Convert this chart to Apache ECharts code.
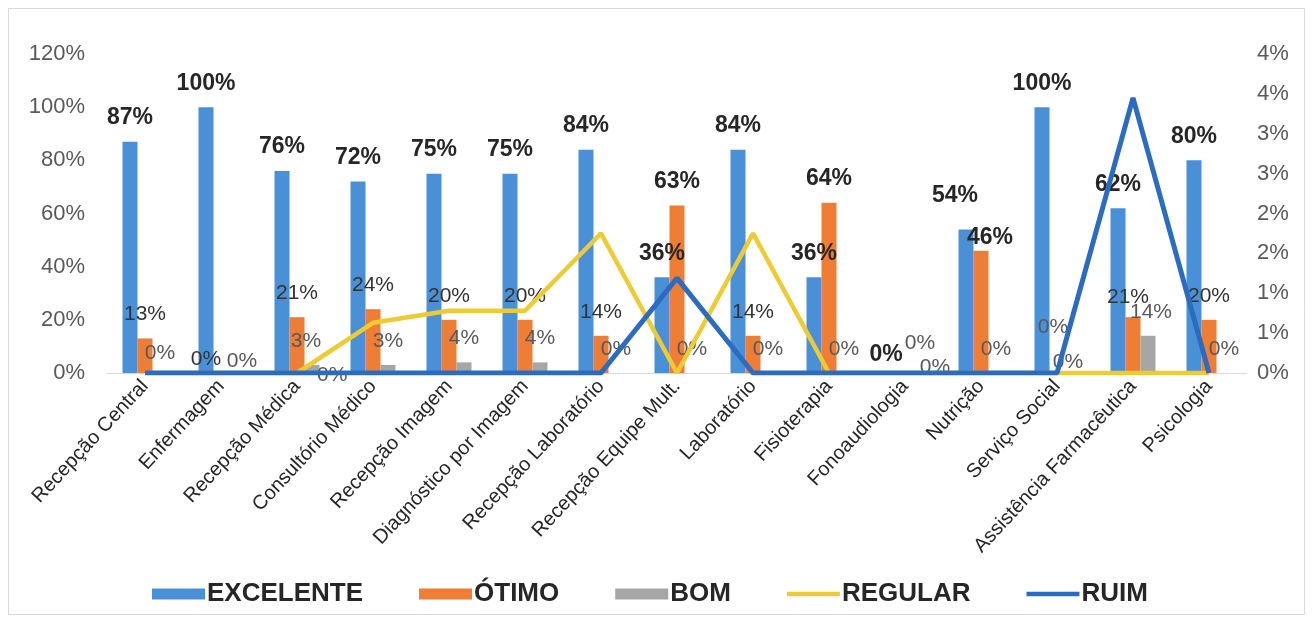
<!DOCTYPE html>
<html>
<head>
<meta charset="utf-8">
<script src="https://cdn.jsdelivr.net/npm/echarts@6/dist/echarts.min.js"></script>
<style>
  html, body { margin: 0; padding: 0; background: #ffffff; }
  #chart { width: 1314px; height: 622px; }
</style>
</head>
<body>
<div id="chart"></div>
<script>
// Satisfaction survey by sector
const categories = [
  'Recepção Central', 'Enfermagem', 'Recepção Médica', 'Consultório Médico',
  'Recepção Imagem', 'Diagnóstico por Imagem', 'Recepção Laboratório',
  'Recepção Equipe Mult.', 'Laboratório', 'Fisioterapia', 'Fonoaudiologia',
  'Nutrição', 'Serviço Social', 'Assistência Farmacêutica', 'Psicologia'
];
const excelente = [0.87, 1.00, 0.76, 0.72, 0.75, 0.75, 0.84, 0.36, 0.84, 0.36, 0.00, 0.54, 1.00, 0.62, 0.80];
const otimo     = [0.13, 0.00, 0.21, 0.24, 0.20, 0.20, 0.14, 0.63, 0.14, 0.64, 0.00, 0.46, 0.00, 0.21, 0.20];
const bom       = [0.00, 0.00, 0.03, 0.03, 0.04, 0.04, 0.00, 0.00, 0.00, 0.00, 0.00, 0.00, 0.00, 0.14, 0.00];
const regular   = [0, 0, 0, 0.0063, 0.0078, 0.0078, 0.0175, 0, 0.0175, 0, 0, 0, 0, 0, 0];
const ruim      = [0, 0, 0, 0, 0, 0, 0, 0.0119, 0, 0, 0, 0, 0, 0.0345, 0];

const leftTicks  = { min: 0, max: 1.2, step: 0.2 };
const rightTicks = { min: 0, max: 0.04, step: 0.005 };

const FONT = '"Liberation Sans", Arial, sans-serif';
const pct = v => Math.round(v * 100) + '%';

// Hand-placed label nudges: index -> [dx, rise above bar top]
const DEFAULT_RISE = 24;
const labelNudges = {
  exc: { 10: [-4, 18], 11: [-11, 34] },
  oti: { 1: [-15, 14], 10: [15, 30], 11: [9, 13], 12: [-4, 46], 13: [-5, 20] },
  bom: { 0: [0, 20], 1: [6, 12], 2: [-6, 24], 10: [15, 6], 12: [-4, 11], 13: [3, 24] }
};
const boldOtimo = new Set([7, 9, 11]);

function barItems(values, key, style) {
  return values.map((v, i) => {
    const n = labelNudges[key][i] || [0, DEFAULT_RISE];
    const s = style(i);
    return {
      value: v,
      label: {
        fontSize: s.size,
        fontWeight: s.weight,
        color: s.color,
        offset: [n[0], s.size / 2 - n[1]]
      }
    };
  });
}

const excStyle = () => ({ size: 23, weight: 'bold', color: '#262626' });
const otiStyle = i => boldOtimo.has(i)
  ? { size: 23, weight: 'bold', color: '#262626' }
  : { size: 21, weight: 'normal', color: (otimo[i] === 0 && i !== 1) ? '#595959' : '#333333' };
const bomStyle = () => ({ size: 21, weight: 'normal', color: '#595959' });

const barLabel = {
  show: true,
  position: 'top',
  distance: 0,
  fontFamily: FONT,
  formatter: p => pct(p.value)
};

// stray value label on the REGULAR line at Recepção Médica
const regularItems = regular.map((v, i) => i === 2
  ? { value: v, label: { show: true, position: 'right', distance: 20, offset: [0, 2],
      fontFamily: FONT, fontSize: 21, color: '#595959', formatter: p => pct(p.value) } }
  : v);

const lineIcon = 'path://M0,0H56V5H0Z';

const chart = echarts.init(document.getElementById('chart'), null, { renderer: 'canvas' });
chart.setOption({
  animation: false,
  backgroundColor: '#ffffff',
  textStyle: { fontFamily: FONT },
  graphic: [{
    type: 'rect',
    shape: { x: 8.5, y: 8.5, width: 1296, height: 606 },
    style: { fill: 'none', stroke: '#d9d9d9', lineWidth: 1 },
    silent: true
  }],
  grid: { left: 107, right: 67, top: 54, bottom: 249, containLabel: false },
  legend: {
    bottom: 10,
    left: 147,
    itemGap: 56,
    itemWidth: 53,
    itemHeight: 11,
    textStyle: { fontFamily: FONT, fontSize: 26, fontWeight: 'bold', color: '#262626', padding: [0, 0, 0, -3] },
    data: [
      { name: 'EXCELENTE', icon: 'rect' },
      { name: 'ÓTIMO', icon: 'rect' },
      { name: 'BOM', icon: 'rect' },
      { name: 'REGULAR', icon: lineIcon },
      { name: 'RUIM', icon: lineIcon }
    ]
  },
  xAxis: {
    type: 'category',
    data: categories,
    axisTick: { show: false },
    axisLine: { lineStyle: { color: '#d9d9d9', width: 1 } },
    axisLabel: {
      rotate: 47,
      interval: 0,
      margin: 10,
      fontFamily: FONT,
      fontSize: 20,
      color: '#262626'
    }
  },
  yAxis: [{
    type: 'value',
    min: leftTicks.min,
    max: leftTicks.max,
    interval: leftTicks.step,
    splitLine: { show: false },
    axisLine: { show: false },
    axisTick: { show: false },
    axisLabel: { fontFamily: FONT, fontSize: 22, color: '#595959', margin: 22, formatter: pct }
  }, {
    type: 'value',
    min: rightTicks.min,
    max: rightTicks.max,
    interval: rightTicks.step,
    splitLine: { show: false },
    axisLine: { show: false },
    axisTick: { show: false },
    axisLabel: { fontFamily: FONT, fontSize: 22, color: '#595959', margin: 10, formatter: pct }
  }],
  series: [{
    name: 'EXCELENTE',
    type: 'bar',
    barWidth: 15,
    barGap: '0%',
    itemStyle: { color: '#4A90D6' },
    label: barLabel,
    data: barItems(excelente, 'exc', excStyle)
  }, {
    name: 'ÓTIMO',
    type: 'bar',
    barWidth: 15,
    barGap: '0%',
    itemStyle: { color: '#EE7D35' },
    label: barLabel,
    data: barItems(otimo, 'oti', otiStyle)
  }, {
    name: 'BOM',
    type: 'bar',
    barWidth: 15,
    barGap: '0%',
    itemStyle: { color: '#A6A6A6' },
    label: barLabel,
    data: barItems(bom, 'bom', bomStyle)
  }, {
    name: 'REGULAR',
    type: 'line',
    yAxisIndex: 1,
    symbol: 'circle',
    symbolSize: 0,
    showSymbol: true,
    lineStyle: { color: '#EDCB35', width: 4.5 },
    itemStyle: { color: '#EDCB35' },
    z: 3,
    data: regularItems
  }, {
    name: 'RUIM',
    type: 'line',
    yAxisIndex: 1,
    symbol: 'none',
    lineStyle: { color: '#2B6CC1', width: 5 },
    itemStyle: { color: '#2B6CC1' },
    z: 4,
    data: ruim
  }]
});
</script>
</body>
</html>
